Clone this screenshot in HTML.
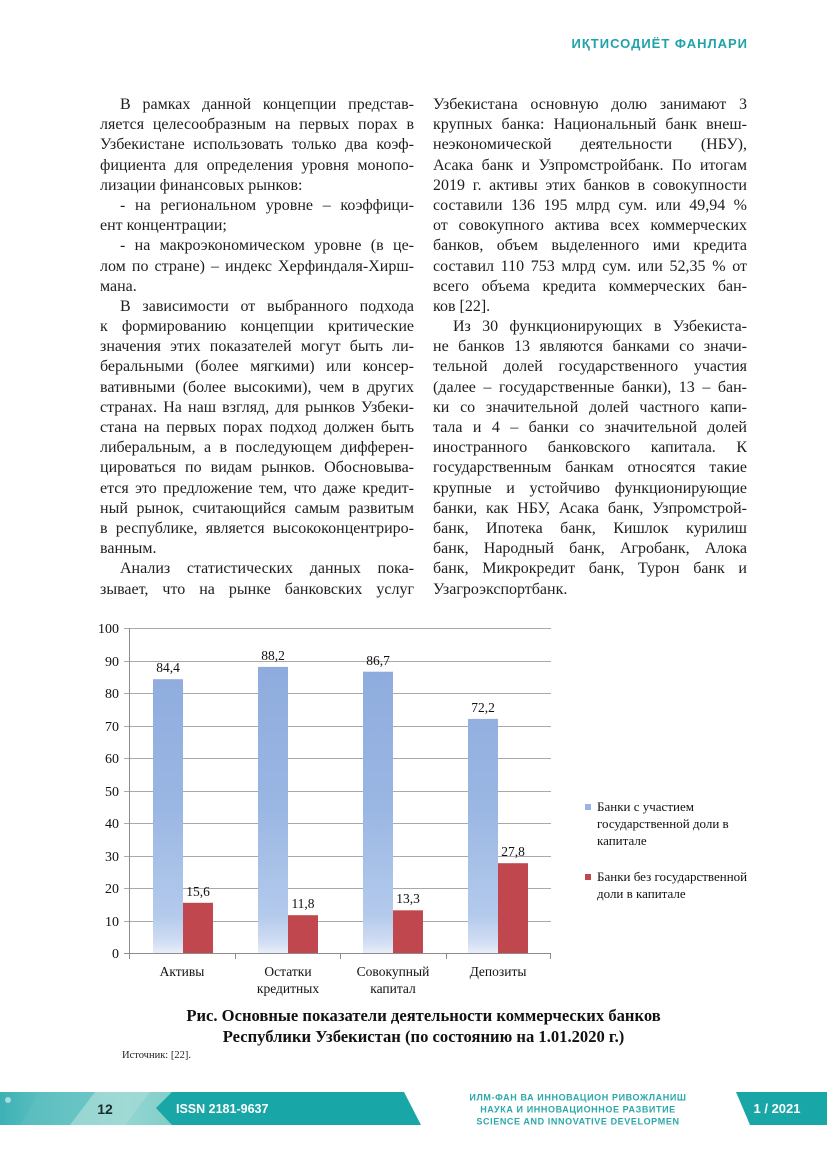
<!DOCTYPE html>
<html>
<head>
<meta charset="utf-8">
<style>
  html, body { margin:0; padding:0; background:#fff; }
  #page { position:relative; width:827px; height:1169px; overflow:hidden; background:#fff; }
  .hdr { position:absolute; left:560px; top:35px; width:188px; text-align:right;
         font-family:"Liberation Sans", sans-serif; font-weight:bold; font-size:13px;
         letter-spacing:1px; color:#1fa3a8; line-height:18px; white-space:nowrap; }
  .col { position:absolute; top:95px; width:314px;
         font-family:"Liberation Serif", "Noto Serif CJK SC", serif; font-size:16px;
         line-height:20.2px; color:#1d1d1b; }
  .col div { text-align:justify; text-align-last:justify; height:20.2px; white-space:nowrap; overflow:visible; }
  .col div.l { text-align:left; text-align-last:left; }
  .col div.i { padding-left:20px; }
  #c1 { left:100px; }
  #c2 { left:433px; }
  svg { position:absolute; left:0; top:0; }
</style>
</head>
<body>
<div id="page">
  <div class="hdr">ИҚТИСОДИЁТ ФАНЛАРИ</div>

  <div class="col" id="c1">
    <div class="i">В рамках данной концепции представ-</div>
    <div>ляется целесообразным на первых порах в</div>
    <div>Узбекистане использовать только два коэф-</div>
    <div>фициента для определения уровня монопо-</div>
    <div class="l">лизации финансовых рынков:</div>
    <div class="i">- на региональном уровне – коэффици-</div>
    <div class="l">ент концентрации;</div>
    <div class="i">- на макроэкономическом уровне (в це-</div>
    <div>лом по стране) – индекс Херфиндаля-Хирш-</div>
    <div class="l">мана.</div>
    <div class="i">В зависимости от выбранного подхода</div>
    <div>к формированию концепции критические</div>
    <div>значения этих показателей могут быть ли-</div>
    <div>беральными (более мягкими) или консер-</div>
    <div>вативными (более высокими), чем в других</div>
    <div>странах. На наш взгляд, для рынков Узбеки-</div>
    <div>стана на первых порах подход должен быть</div>
    <div>либеральным, а в последующем дифферен-</div>
    <div>цироваться по видам рынков. Обосновыва-</div>
    <div>ется это предложение тем, что даже кредит-</div>
    <div>ный рынок, считающийся самым развитым</div>
    <div>в республике, является высококонцентриро-</div>
    <div class="l">ванным.</div>
    <div class="i">Анализ статистических данных пока-</div>
    <div>зывает, что на рынке банковских услуг</div>
  </div>

  <div class="col" id="c2">
    <div>Узбекистана основную долю занимают 3</div>
    <div>крупных банка: Национальный банк внеш-</div>
    <div>неэкономической деятельности (НБУ),</div>
    <div>Асака банк и Узпромстройбанк. По итогам</div>
    <div>2019 г. активы этих банков в совокупности</div>
    <div>составили 136 195 млрд сум. или 49,94 %</div>
    <div>от совокупного актива всех коммерческих</div>
    <div>банков, объем выделенного ими кредита</div>
    <div>составил 110 753 млрд сум. или 52,35 % от</div>
    <div>всего объема кредита коммерческих бан-</div>
    <div class="l">ков [22].</div>
    <div class="i">Из 30 функционирующих в Узбекиста-</div>
    <div>не банков 13 являются банками со значи-</div>
    <div>тельной долей государственного участия</div>
    <div>(далее – государственные банки), 13 – бан-</div>
    <div>ки со значительной долей частного капи-</div>
    <div>тала и 4 – банки со значительной долей</div>
    <div>иностранного банковского капитала. К</div>
    <div>государственным банкам относятся такие</div>
    <div>крупные и устойчиво функционирующие</div>
    <div>банки, как НБУ, Асака банк, Узпромстрой-</div>
    <div>банк, Ипотека банк, Кишлок курилиш</div>
    <div>банк, Народный банк, Агробанк, Алока</div>
    <div>банк, Микрокредит банк, Турон банк и</div>
    <div class="l">Узагроэкспортбанк.</div>
  </div>

  <svg width="827" height="1169" viewBox="0 0 827 1169" xmlns="http://www.w3.org/2000/svg">
    <defs>
      <linearGradient id="gb" gradientUnits="userSpaceOnUse" x1="0" y1="628" x2="0" y2="954">
        <stop offset="0" stop-color="#8ba9dc"/>
        <stop offset="0.55" stop-color="#9ab6e3"/>
        <stop offset="0.88" stop-color="#b3caec"/>
        <stop offset="0.96" stop-color="#cfdcf2"/>
        <stop offset="1" stop-color="#eaf0f9"/>
      </linearGradient>
      <linearGradient id="fl" x1="0" y1="0" x2="1" y2="0">
        <stop offset="0" stop-color="#3db1b5"/>
        <stop offset="0.35" stop-color="#6cc6c5"/>
        <stop offset="0.7" stop-color="#93d5d0"/>
        <stop offset="1" stop-color="#7fcdc9"/>
      </linearGradient>
    </defs>

    <!-- gridlines -->
    <g stroke="#a9a9a9" stroke-width="1">
      <line x1="124" y1="628.5" x2="551" y2="628.5"/>
      <line x1="124" y1="661.5" x2="551" y2="661.5"/>
      <line x1="124" y1="693.5" x2="551" y2="693.5"/>
      <line x1="124" y1="726.5" x2="551" y2="726.5"/>
      <line x1="124" y1="758.5" x2="551" y2="758.5"/>
      <line x1="124" y1="791.5" x2="551" y2="791.5"/>
      <line x1="124" y1="823.5" x2="551" y2="823.5"/>
      <line x1="124" y1="856.5" x2="551" y2="856.5"/>
      <line x1="124" y1="888.5" x2="551" y2="888.5"/>
      <line x1="124" y1="921.5" x2="551" y2="921.5"/>
    </g>

    <!-- bars -->
    <g fill="url(#gb)">
      <rect x="153" y="679.2" width="30" height="274.3"/>
      <rect x="258" y="666.9" width="30" height="286.6"/>
      <rect x="363" y="671.7" width="30" height="281.8"/>
      <rect x="468" y="718.9" width="30" height="234.6"/>
    </g>
    <g fill="#c0474d">
      <rect x="183" y="902.8" width="30" height="50.7"/>
      <rect x="288" y="915.2" width="30" height="38.3"/>
      <rect x="393" y="910.3" width="30" height="43.2"/>
      <rect x="498" y="863.2" width="30" height="90.3"/>
    </g>

    <!-- axes -->
    <g stroke="#8c8c8c" stroke-width="1">
      <line x1="129.5" y1="628" x2="129.5" y2="954"/>
      <line x1="124" y1="953.5" x2="551" y2="953.5"/>
      <line x1="129.5" y1="953.5" x2="129.5" y2="959"/>
      <line x1="235.5" y1="953.5" x2="235.5" y2="959"/>
      <line x1="340.5" y1="953.5" x2="340.5" y2="959"/>
      <line x1="446.5" y1="953.5" x2="446.5" y2="959"/>
      <line x1="550.5" y1="953.5" x2="550.5" y2="959"/>
    </g>

    <!-- y labels -->
    <g font-family="Liberation Serif, serif" font-size="14" fill="#111" text-anchor="end">
      <text x="119" y="633">100</text>
      <text x="119" y="666">90</text>
      <text x="119" y="698">80</text>
      <text x="119" y="731">70</text>
      <text x="119" y="763">60</text>
      <text x="119" y="796">50</text>
      <text x="119" y="828">40</text>
      <text x="119" y="861">30</text>
      <text x="119" y="893">20</text>
      <text x="119" y="926">10</text>
      <text x="119" y="958">0</text>
    </g>

    <!-- data labels -->
    <g font-family="Liberation Serif, serif" font-size="13.5" fill="#111" text-anchor="middle">
      <text x="168" y="672">84,4</text>
      <text x="273" y="660">88,2</text>
      <text x="378" y="665">86,7</text>
      <text x="483" y="712">72,2</text>
      <text x="198" y="896">15,6</text>
      <text x="303" y="908">11,8</text>
      <text x="408" y="903">13,3</text>
      <text x="513" y="856">27,8</text>
    </g>

    <!-- category labels -->
    <g font-family="Liberation Serif, serif" font-size="13.5" fill="#111" text-anchor="middle">
      <text x="182" y="976">Активы</text>
      <text x="288" y="976">Остатки</text>
      <text x="288" y="993">кредитных</text>
      <text x="393" y="976">Совокупный</text>
      <text x="393" y="993">капитал</text>
      <text x="498" y="976">Депозиты</text>
    </g>

    <!-- legend -->
    <rect x="585" y="804" width="6" height="6" fill="#9ab4e2"/>
    <rect x="585" y="874" width="6" height="6" fill="#c0474d"/>
    <g font-family="Liberation Serif, serif" font-size="13" fill="#111">
      <text x="597" y="811">Банки с участием</text>
      <text x="597" y="828">государственной доли в</text>
      <text x="597" y="845">капитале</text>
      <text x="597" y="881">Банки без государственной</text>
      <text x="597" y="898">доли в капитале</text>
    </g>

    <!-- caption -->
    <g font-family="Liberation Serif, serif" font-size="16.6" font-weight="bold" fill="#111" text-anchor="middle">
      <text x="423.5" y="1021">Рис. Основные показатели деятельности коммерческих банков</text>
      <text x="423.5" y="1042">Республики Узбекистан (по состоянию на 1.01.2020 г.)</text>
    </g>
    <text x="122" y="1058" font-family="Liberation Serif, serif" font-size="10.5" fill="#222">Источник: [22].</text>

    <!-- footer -->
    <rect x="0" y="1092" width="180" height="33" fill="url(#fl)"/>
    <polygon points="40,1092 95,1092 70,1125 20,1125" fill="#5fc0c1" opacity="0.6"/>
    <polygon points="95,1092 150,1092 125,1125 70,1125" fill="#a5dcd7" opacity="0.7"/>
    <circle cx="8" cy="1100" r="3" fill="#bfe9e8" opacity="0.8"/>
    <polygon points="172,1092 404,1092 421,1125 172,1125 156,1108" fill="#19a6a7"/>
    <text x="105" y="1114" text-anchor="middle" font-family="Liberation Sans, sans-serif" font-size="14" font-weight="bold" fill="#1b2e2f">12</text>
    <text x="176" y="1113" font-family="Liberation Sans, sans-serif" font-size="12.5" font-weight="bold" fill="#ffffff">ISSN 2181-9637</text>

    <g font-family="Liberation Sans, sans-serif" font-size="9" font-weight="bold" fill="#2ba8aa" text-anchor="middle" letter-spacing="0.6">
      <text x="578" y="1100.5">ИЛМ-ФАН ВА ИННОВАЦИОН РИВОЖЛАНИШ</text>
      <text x="578" y="1112.5">НАУКА И ИННОВАЦИОННОЕ РАЗВИТИЕ</text>
      <text x="578" y="1124.5">SCIENCE AND INNOVATIVE DEVELOPMEN</text>
    </g>

    <polygon points="736,1092 827,1092 827,1125 750,1125" fill="#19a6a7"/>
    <text x="777" y="1113" text-anchor="middle" font-family="Liberation Sans, sans-serif" font-size="13" font-weight="bold" fill="#ffffff">1 / 2021</text>
  </svg>
</div>
</body>
</html>
